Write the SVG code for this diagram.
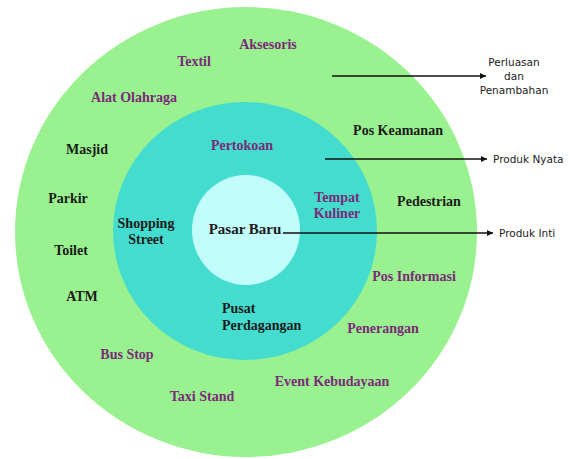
<svg xmlns="http://www.w3.org/2000/svg" width="569" height="459" viewBox="0 0 569 459">
<defs>
<marker id="ah" viewBox="0 0 10 10" refX="10" refY="5" markerWidth="6" markerHeight="6" markerUnits="userSpaceOnUse" orient="auto">
<path d="M0,0 L10,5 L0,10 z" fill="#111"/>
</marker>
<style>
.lb{font-family:"Liberation Serif","Times New Roman",serif;font-weight:bold;font-size:14px;text-anchor:middle}
.pu{fill:#7a2a78}
.bk{fill:#1a1a1a}
.sn{font-family:"DejaVu Sans",Verdana,sans-serif;font-size:10.5px;fill:#222}
.ar{stroke:#111;stroke-width:1.6;fill:none;marker-end:url(#ah)}
</style>
</defs>
<rect width="569" height="459" fill="#ffffff"/>
<g id="outer">
<ellipse cx="246" cy="232" rx="231" ry="225" fill="#99f28f"/>
<text class="lb pu" x="268" y="49">Aksesoris</text>
<text class="lb pu" x="194" y="66">Textil</text>
<text class="lb pu" x="134" y="102">Alat Olahraga</text>
<text class="lb bk" x="87" y="154">Masjid</text>
<text class="lb bk" x="68" y="203">Parkir</text>
<text class="lb bk" x="71" y="255">Toilet</text>
<text class="lb bk" x="82" y="301">ATM</text>
<text class="lb pu" x="127" y="359">Bus Stop</text>
<text class="lb pu" x="202" y="401">Taxi Stand</text>
<text class="lb pu" x="332" y="386">Event Kebudayaan</text>
<text class="lb pu" x="383" y="333">Penerangan</text>
<text class="lb pu" x="414" y="281">Pos Informasi</text>
<text class="lb bk" x="429" y="206">Pedestrian</text>
<text class="lb bk" x="398" y="135">Pos Keamanan</text>
</g>
<g id="middle">
<ellipse cx="245" cy="231" rx="132" ry="129" fill="#44dccf"/>
<text class="lb pu" x="242" y="150">Pertokoan</text>
<text class="lb pu" x="337" y="202">Tempat</text>
<text class="lb pu" x="337" y="218">Kuliner</text>
<text class="lb bk" x="146" y="228">Shopping</text>
<text class="lb bk" x="146" y="244">Street</text>
<text class="lb bk" x="222" y="313" style="text-anchor:start">Pusat</text>
<text class="lb bk" x="222" y="330" style="text-anchor:start">Perdagangan</text>
</g>
<g id="inner">
<ellipse cx="246" cy="230" rx="54" ry="55" fill="#c2fcfb"/>
<text class="lb bk" x="245" y="234" style="font-size:15px">Pasar Baru</text>
</g>
<g id="connectors">
<line class="ar" x1="332" y1="76" x2="486" y2="76"/>
<line class="ar" x1="325" y1="159" x2="487" y2="159"/>
<line class="ar" x1="283" y1="233" x2="493" y2="233"/>
</g>
<g id="labels">
<text class="sn" x="514" y="66" text-anchor="middle">Perluasan</text>
<text class="sn" x="514" y="80" text-anchor="middle">dan</text>
<text class="sn" x="514" y="94" text-anchor="middle">Penambahan</text>
<text class="sn" x="493" y="163">Produk Nyata</text>
<text class="sn" x="499" y="237">Produk Inti</text>
</g>
</svg>
